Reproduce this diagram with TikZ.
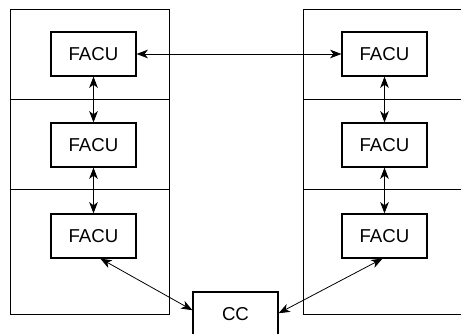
\documentclass[tikz,border=0pt]{standalone}
\usepackage{fontspec}
\setmainfont{Liberation Sans}
\usetikzlibrary{arrows.meta}

\begin{document}
\begin{tikzpicture}[x=0.75pt,y=-0.75pt,
  unit/.style={draw,line width=0.9pt,minimum width=63.75pt,minimum height=33pt,inner sep=0pt,font=\fontsize{14}{16}\selectfont},
  link/.style={line width=0.6pt,{Stealth[length=8.5pt,width=6.5pt,inset=2.5pt]}-{Stealth[length=8.5pt,width=6.5pt,inset=2.5pt]}}]
\useasboundingbox[clip] (0,0) rectangle (461,334);
\draw[line width=0.75pt] (10,10) rectangle (169,315);
\draw[line width=0.75pt] (303,10) rectangle (480,315);
\foreach \y in {100,190}{
  \draw[line width=0.75pt] (10,\y)--(169,\y);
  \draw[line width=0.75pt] (303,\y)--(480,\y);
}
\foreach \i/\y in {1/54,2/145,3/236}{
  \node[unit] (lf\i) at (93.5,\y) {FACU};
  \node[unit] (rf\i) at (384.5,\y) {FACU};
}
\node[unit] (cc) at (235.5,314) {CC};
\draw[link] (lf1)--(rf1);
\draw[link] (lf1)--(lf2);
\draw[link] (lf2)--(lf3);
\draw[link] (rf1)--(rf2);
\draw[link] (rf2)--(rf3);
\draw[link] (lf3.-73)--(cc.175);
\draw[link] (rf3.-95)--(cc.1);
\end{tikzpicture}
\end{document}
